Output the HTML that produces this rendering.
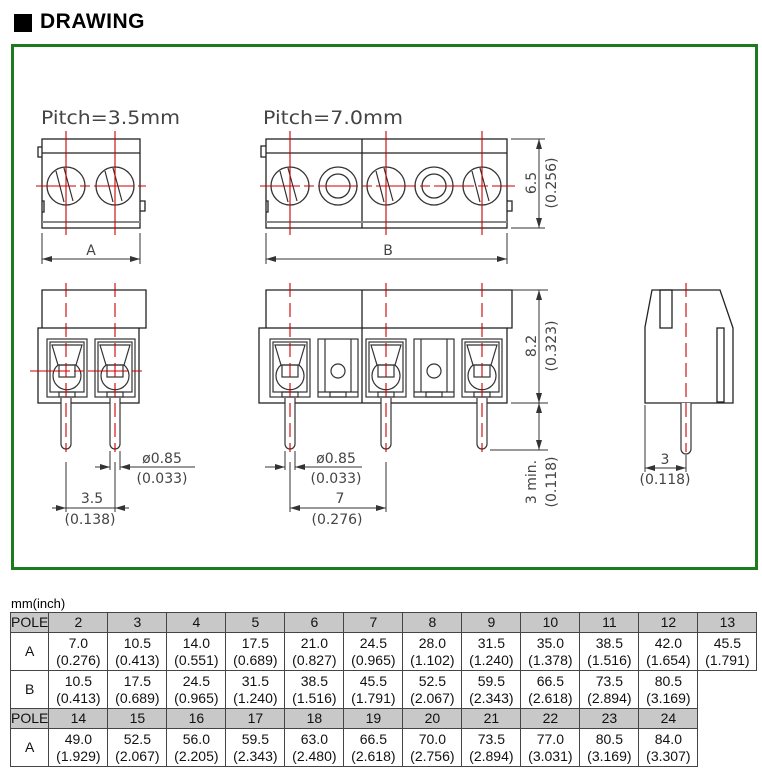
<!DOCTYPE html>
<html><head><meta charset="utf-8"><style>
body{margin:0;background:#fff;width:762px;height:783px;overflow:hidden;font-family:"Liberation Sans",sans-serif;}
table{position:absolute;left:10px;top:612px;border-collapse:collapse;font-family:"Liberation Sans",sans-serif;font-size:14px;color:#111;}
td{border:1px solid #444;text-align:center;padding:0;line-height:17px;width:58px;}
td.h{background:#c8c8c8;height:19px;}
td.f{width:37px;}
td.v{height:37px;}
td.e{border:none;background:#fff;}
</style></head><body>
<div style="position:absolute;left:14px;top:14px;width:18px;height:18px;background:#000"></div>
<div style="position:absolute;left:40px;top:10px;font-size:21px;font-weight:bold;letter-spacing:0.5px;">DRAWING</div>
<div style="position:absolute;left:11px;top:44px;width:741px;height:520px;border:3px solid #1d7b1d;"></div>
<svg width="762" height="783" style="position:absolute;left:0;top:0" font-family="DejaVu Sans, Liberation Sans, sans-serif">
<defs>
<g id="screw"><circle r="19" fill="none" stroke="#333" stroke-width="1.3"/><line x1="-10" y1="-15" x2="-2" y2="16" stroke="#333" stroke-width="1.2"/><line x1="-2" y1="-18" x2="7" y2="15" stroke="#333" stroke-width="1.2"/></g>
<g id="ring"><circle r="19" fill="none" stroke="#333" stroke-width="1.3"/><circle r="12" fill="none" stroke="#333" stroke-width="1.3"/></g>
<g id="cellA" fill="none" stroke="#333" stroke-width="1.2"><rect x="-20" y="0" width="40" height="58"/><rect x="-17" y="3" width="34" height="50"/><polygon points="-15,6 15,6 9,26 -9,26"/><path d="M-9,26 A14,14 0 1 0 9,26"/><rect x="-8" y="26" width="16" height="12"/><rect x="-8" y="53" width="16" height="5"/></g>
<g id="cellB" fill="none" stroke="#333" stroke-width="1.2"><rect x="-20" y="0" width="40" height="58"/><line x1="-13" y1="0" x2="-13" y2="53"/><line x1="13" y1="0" x2="13" y2="53"/><line x1="-20" y1="53" x2="20" y2="53"/><circle cy="32" r="7"/><rect x="-8" y="53" width="16" height="5"/></g>
<g id="pin" fill="#fff" stroke="#333" stroke-width="1.2"><path d="M-5,0 V46 A5,5 0 0 0 5,46 V0"/></g>
<marker id="ar" markerWidth="10" markerHeight="6" refX="10" refY="3" orient="auto-start-reverse" markerUnits="userSpaceOnUse"><path d="M0,0 L10,3 L0,6z" fill="#333"/></marker>
</defs>
<g fill="#444" font-size="19"><text x="41" y="124" textLength="139" lengthAdjust="spacingAndGlyphs">Pitch=3.5mm</text><text x="263" y="124" textLength="140" lengthAdjust="spacingAndGlyphs">Pitch=7.0mm</text></g>
<g fill="none" stroke="#222" stroke-width="1.3">
<rect x="42" y="139" width="98" height="89"/><line x1="42" y1="153" x2="140" y2="153"/>
<line x1="42" y1="222" x2="140" y2="222" stroke="#888" stroke-width="2"/>
<path d="M42,147 H38 V157 H42 M42,201 H44 V212 H42 M140,201 H145 V211 H140"/>
<rect x="266" y="139" width="241" height="89"/><line x1="266" y1="153" x2="507" y2="153"/><line x1="362" y1="139" x2="362" y2="228"/>
<line x1="266" y1="222" x2="507" y2="222" stroke="#888" stroke-width="2"/>
<path d="M266,146 H261 V157 H266 M266,201 H268 V212 H266 M507,201 H512 V211 H507"/>
</g>
<use href="#screw" x="66" y="186"/><use href="#screw" x="115" y="186"/>
<use href="#screw" x="290" y="186"/><use href="#ring" x="338" y="186"/><use href="#screw" x="386" y="186"/><use href="#ring" x="434" y="186"/><use href="#screw" x="482" y="186"/>
<g stroke="#c00" stroke-width="1.1">
<line x1="66" y1="131" x2="66" y2="235"/><line x1="115" y1="131" x2="115" y2="235"/><line x1="36" y1="186" x2="146" y2="186" stroke-dasharray="40,4,10,4"/>
<line x1="290" y1="131" x2="290" y2="235"/><line x1="386" y1="131" x2="386" y2="235"/><line x1="482" y1="131" x2="482" y2="235"/><line x1="260" y1="186" x2="515" y2="186" stroke-dasharray="40,4,10,4"/>
</g>
<g stroke="#333" stroke-width="1" fill="none">
<line x1="42" y1="233" x2="42" y2="264"/><line x1="140" y1="233" x2="140" y2="264"/><line x1="42" y1="259" x2="140" y2="259" marker-start="url(#ar)" marker-end="url(#ar)"/>
<line x1="266" y1="233" x2="266" y2="264"/><line x1="507" y1="233" x2="507" y2="264"/><line x1="266" y1="259" x2="507" y2="259" marker-start="url(#ar)" marker-end="url(#ar)"/>
<line x1="511" y1="139" x2="545" y2="139"/><line x1="511" y1="228" x2="545" y2="228"/><line x1="539" y1="139" x2="539" y2="228" marker-start="url(#ar)" marker-end="url(#ar)"/>
</g>
<g fill="#444" font-size="14" text-anchor="middle"><text x="91" y="255">A</text><text x="388" y="255">B</text>
<text transform="translate(536,183) rotate(-90)">6.5</text><text transform="translate(556,183) rotate(-90)">(0.256)</text></g>
<g fill="none" stroke="#222" stroke-width="1.3">
<path d="M42,328 V290 H146 V328 H139"/><rect x="38" y="328" width="101" height="75"/>
<path d="M266,328 V290 H512 V328 H507"/><rect x="259" y="328" width="248" height="75"/><line x1="362" y1="290" x2="362" y2="403"/>
<path d="M652,290 H720 L733,328 V403 H645 V327 Z"/><rect x="660" y="290" width="12" height="38"/><rect x="717" y="328" width="7" height="74"/>
</g>
<use href="#cellA" x="67" y="339"/><use href="#cellA" x="115" y="339"/>
<use href="#cellA" x="290" y="339"/><use href="#cellB" x="338" y="339"/><use href="#cellA" x="386" y="339"/><use href="#cellB" x="434" y="339"/><use href="#cellA" x="482" y="339"/>
<use href="#pin" x="66" y="398"/><use href="#pin" x="115" y="398"/><use href="#pin" x="290" y="398"/><use href="#pin" x="386" y="398"/><use href="#pin" x="482" y="398"/><use href="#pin" x="686" y="403"/>
<g stroke="#c00" stroke-width="1.1" stroke-dasharray="14,6">
<line x1="66" y1="283" x2="66" y2="452"/><line x1="115" y1="283" x2="115" y2="452"/>
<line x1="290" y1="283" x2="290" y2="452"/><line x1="386" y1="283" x2="386" y2="452"/><line x1="482" y1="283" x2="482" y2="452"/>
<line x1="686" y1="283" x2="686" y2="452"/>
<line x1="30" y1="371" x2="146" y2="371" stroke-dasharray="40,4,10,4"/>
</g>
<g stroke="#333" stroke-width="1" fill="none">
<line x1="110" y1="451" x2="110" y2="470"/><line x1="120" y1="451" x2="120" y2="470"/>
<line x1="95" y1="467" x2="110" y2="467" marker-end="url(#ar)"/><line x1="135" y1="467" x2="120" y2="467" marker-end="url(#ar)"/><line x1="120" y1="467" x2="195" y2="467"/>
<line x1="66" y1="462" x2="66" y2="512"/><line x1="115" y1="462" x2="115" y2="512"/><line x1="52" y1="508" x2="66" y2="508" marker-end="url(#ar)"/><line x1="129" y1="508" x2="115" y2="508" marker-end="url(#ar)"/><line x1="52" y1="508" x2="129" y2="508"/>
<line x1="285" y1="451" x2="285" y2="470"/><line x1="295" y1="451" x2="295" y2="470"/>
<line x1="265" y1="467" x2="285" y2="467" marker-end="url(#ar)"/><line x1="310" y1="467" x2="295" y2="467" marker-end="url(#ar)"/><line x1="295" y1="467" x2="362" y2="467"/>
<line x1="290" y1="462" x2="290" y2="512"/><line x1="386" y1="462" x2="386" y2="512"/><line x1="290" y1="508" x2="386" y2="508" marker-start="url(#ar)" marker-end="url(#ar)"/>
<line x1="512" y1="290" x2="548" y2="290"/><line x1="511" y1="403" x2="548" y2="403"/><line x1="490" y1="450" x2="548" y2="450"/>
<line x1="539" y1="290" x2="539" y2="403" marker-start="url(#ar)" marker-end="url(#ar)"/><line x1="539" y1="403" x2="539" y2="450" marker-start="url(#ar)" marker-end="url(#ar)"/>
<line x1="645" y1="405" x2="645" y2="472"/><line x1="686" y1="455" x2="686" y2="472"/><line x1="645" y1="468" x2="686" y2="468" marker-start="url(#ar)" marker-end="url(#ar)"/>
</g>
<g fill="#444" font-size="14" text-anchor="middle">
<text x="162" y="463">ø0.85</text><text x="162" y="483">(0.033)</text><text x="92" y="503">3.5</text><text x="90" y="524">(0.138)</text>
<text x="336" y="463">ø0.85</text><text x="336" y="483">(0.033)</text><text x="340" y="503">7</text><text x="337" y="524">(0.276)</text>
<text transform="translate(536,346) rotate(-90)">8.2</text><text transform="translate(556,346) rotate(-90)">(0.323)</text>
<text transform="translate(536,482) rotate(-90)">3 min.</text><text transform="translate(556,482) rotate(-90)">(0.118)</text>
<text x="665" y="464">3</text><text x="665" y="484">(0.118)</text>
</g>
</svg>
<div style="position:absolute;left:11px;top:596px;font-size:13px;">mm(inch)</div>
<table>
<tr><td class="h f">POLE</td><td class="h">2</td><td class="h">3</td><td class="h">4</td><td class="h">5</td><td class="h">6</td><td class="h">7</td><td class="h">8</td><td class="h">9</td><td class="h">10</td><td class="h">11</td><td class="h">12</td><td class="h">13</td></tr>
<tr><td class="v f">A</td><td>7.0<br>(0.276)</td><td>10.5<br>(0.413)</td><td>14.0<br>(0.551)</td><td>17.5<br>(0.689)</td><td>21.0<br>(0.827)</td><td>24.5<br>(0.965)</td><td>28.0<br>(1.102)</td><td>31.5<br>(1.240)</td><td>35.0<br>(1.378)</td><td>38.5<br>(1.516)</td><td>42.0<br>(1.654)</td><td>45.5<br>(1.791)</td></tr>
<tr><td class="v f">B</td><td>10.5<br>(0.413)</td><td>17.5<br>(0.689)</td><td>24.5<br>(0.965)</td><td>31.5<br>(1.240)</td><td>38.5<br>(1.516)</td><td>45.5<br>(1.791)</td><td>52.5<br>(2.067)</td><td>59.5<br>(2.343)</td><td>66.5<br>(2.618)</td><td>73.5<br>(2.894)</td><td>80.5<br>(3.169)</td><td class="e"></td></tr>
<tr><td class="h f">POLE</td><td class="h">14</td><td class="h">15</td><td class="h">16</td><td class="h">17</td><td class="h">18</td><td class="h">19</td><td class="h">20</td><td class="h">21</td><td class="h">22</td><td class="h">23</td><td class="h">24</td><td class="e"></td></tr>
<tr><td class="v f">A</td><td>49.0<br>(1.929)</td><td>52.5<br>(2.067)</td><td>56.0<br>(2.205)</td><td>59.5<br>(2.343)</td><td>63.0<br>(2.480)</td><td>66.5<br>(2.618)</td><td>70.0<br>(2.756)</td><td>73.5<br>(2.894)</td><td>77.0<br>(3.031)</td><td>80.5<br>(3.169)</td><td>84.0<br>(3.307)</td><td class="e"></td></tr>
</table>
</body></html>
